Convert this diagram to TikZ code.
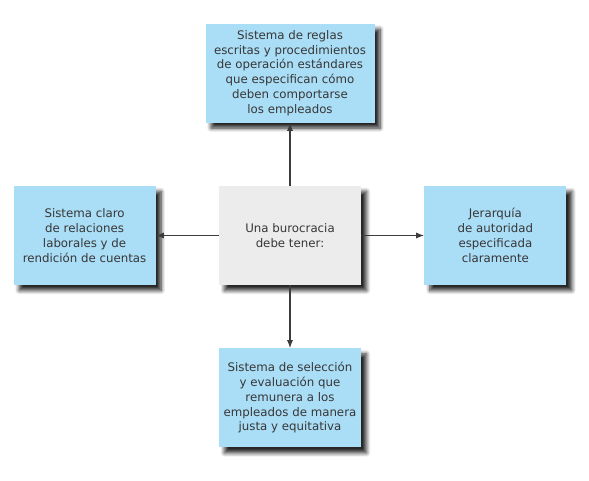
\documentclass[tikz,border=0pt]{standalone}
\usepackage{fontspec}
\setmainfont{DejaVu Sans}
\usetikzlibrary{positioning,shadows.blur,arrows.meta}

\definecolor{boxblue}{RGB}{170,221,246}
\definecolor{boxgray}{RGB}{236,236,236}
\definecolor{txtgray}{RGB}{55,55,55}
\definecolor{linegray}{RGB}{60,60,60}

\tikzstyle{block} = [rectangle, minimum width=142pt, minimum height=99pt, inner sep=4pt, align=center, text=txtgray, fill=boxblue, font=\fontsize{11.8}{14.8}\selectfont, blur shadow={shadow xshift=5.5pt, shadow yshift=-5.5pt, shadow blur radius=4pt, shadow blur steps=8, shadow opacity=85}]
\tikzstyle{hub} = [block, fill=boxgray]
\tikzstyle{arrow} = [-{Latex[length=8pt,width=6pt]}, line width=1.1pt, draw=linegray]

\begin{document}
\begin{tikzpicture}[x=1pt, y=1pt, node distance=63pt]
    \useasboundingbox (0,0) rectangle (589,480);
	\node (Bureaucracy) at (290, 244.5) [hub] {Una burocracia\\debe tener:};
	\node (Rules) [block, above=of Bureaucracy, minimum width=169pt] {Sistema de reglas\\escritas y procedimientos\\de operación estándares\\que especifican cómo\\deben comportarse\\los empleados};
	\node (Relations) [block, left=of Bureaucracy] {Sistema claro\\de relaciones\\laborales y de\\rendición de cuentas};
	\node (Hierarchy) [block, right=of Bureaucracy] {Jerarquía\\de autoridad\\especificada\\claramente};
	\node (Selection) [block, below=of Bureaucracy] {Sistema de selección\\y evaluación que\\remunera a los\\empleados de manera\\justa y equitativa};
	\draw [arrow] (Bureaucracy) -- (Rules);
	\draw [arrow] (Bureaucracy) -- (Relations);
	\draw [arrow] (Bureaucracy) -- (Hierarchy);
	\draw [arrow] (Bureaucracy) -- (Selection);
\end{tikzpicture}
\end{document}
